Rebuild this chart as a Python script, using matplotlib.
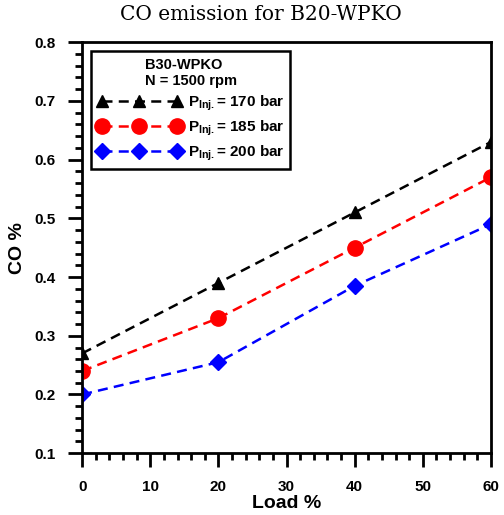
import matplotlib
matplotlib.use("Agg")
import matplotlib.pyplot as plt
from matplotlib.ticker import MultipleLocator

plt.rcParams['font.family'] = ['Liberation Sans', 'DejaVu Sans']
plt.rcParams['mathtext.fontset'] = 'custom'
plt.rcParams['mathtext.bf'] = 'Liberation Sans:bold'
plt.rcParams['mathtext.rm'] = 'Liberation Sans:bold'

load = [0, 20, 40, 60]
co_170 = [0.27, 0.39, 0.51, 0.63]
co_185 = [0.24, 0.33, 0.45, 0.57]
co_200 = [0.20, 0.255, 0.385, 0.49]
labels = ["170", "185", "200"]

fig = plt.figure(figsize=(5.04, 5.15), dpi=100)
ax = fig.add_axes([0.163, 0.120, 0.811, 0.798])

ax.plot(load, co_170, "k--", marker="^", ms=8, lw=1.8, dashes=(4, 2.5),
        label=r"P$_{\mathrm{Inj.}}$= " + labels[0] + " bar")
ax.plot(load, co_185, "--", color="red", marker="o", ms=11, lw=1.8, dashes=(4, 2.5),
        label=r"P$_{\mathrm{Inj.}}$= " + labels[1] + " bar")
ax.plot(load, co_200, "--", color="blue", marker="D", ms=8, lw=1.8, dashes=(4, 2.5),
        label=r"P$_{\mathrm{Inj.}}$= " + labels[2] + " bar")

ax.set_xlim(0, 60)
ax.set_ylim(0.1, 0.8)
ax.xaxis.set_major_locator(MultipleLocator(10))
ax.xaxis.set_minor_locator(MultipleLocator(2))
ax.yaxis.set_major_locator(MultipleLocator(0.1))
ax.yaxis.set_minor_locator(MultipleLocator(0.02))
ax.tick_params(which="major", direction="out", length=10, width=2, labelsize=11, pad=9)
ax.tick_params(which="minor", direction="out", length=5, width=2)
for lab in ax.get_xticklabels() + ax.get_yticklabels():
    lab.set_fontweight("bold")
for sp in ax.spines.values():
    sp.set_linewidth(2)

ax.set_xlabel("Load %", fontsize=14, fontweight="bold", labelpad=1)
ax.set_ylabel("CO %", fontsize=14, fontweight="bold", labelpad=6)
fig.text(0.518, 0.972, "CO emission for B20-WPKO", fontsize=14.5, family="DejaVu Serif",
         ha="center", va="center")

leg = ax.legend(loc="upper left", title="B30-WPKO\nN = 1500 rpm", numpoints=3,
                handlelength=5.5, fancybox=False, framealpha=1, edgecolor="black",
                prop={"weight": "bold", "size": 11}, borderaxespad=0.6,
                labelspacing=0.35, handletextpad=0.4)
leg.get_title().set_fontweight("bold")
leg.get_title().set_fontsize(10.5)
leg.get_frame().set_linewidth(1.8)

fig.savefig("out.png", dpi=100)
